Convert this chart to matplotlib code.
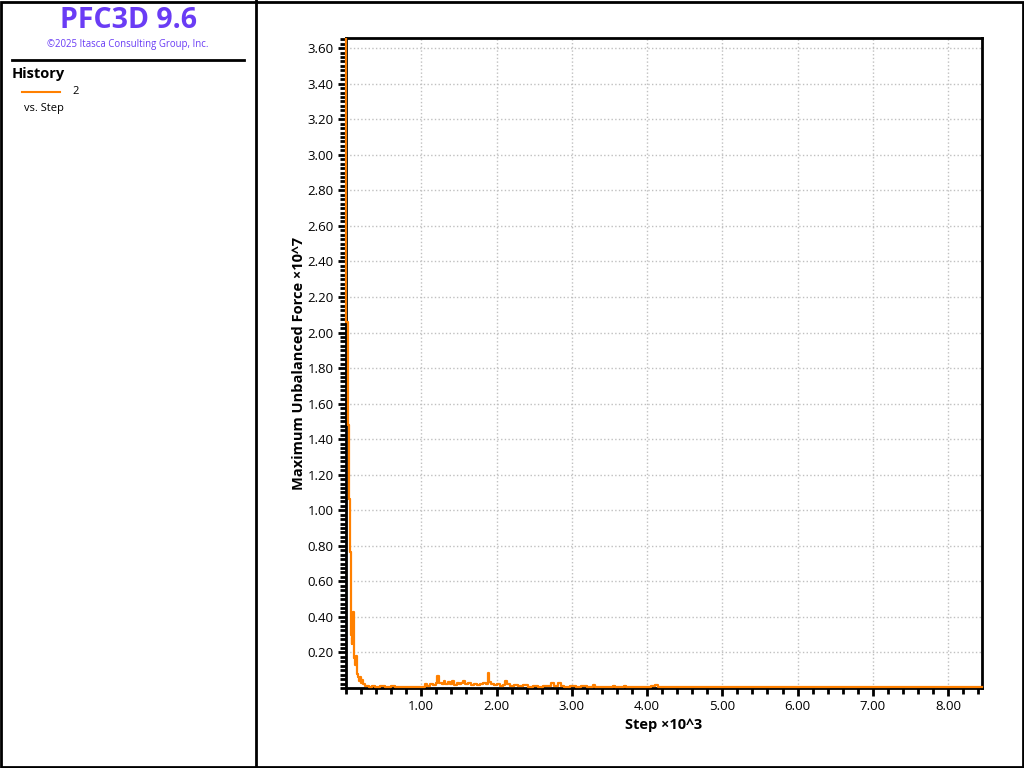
import matplotlib.pyplot as plt
from matplotlib.lines import Line2D
from matplotlib.patches import Rectangle
from matplotlib.ticker import FormatStrFormatter, MultipleLocator

plt.rcParams["font.family"] = ["Open Sans", "DejaVu Sans"]

# history 2: maximum unbalanced force (x10^7) vs step (x10^3), step-wise samples
steps = [
    0.000, 0.005, 0.020, 0.040, 0.055, 0.065, 0.075, 0.085, 0.095, 0.102,
    0.110, 0.120, 0.130, 0.140, 0.150, 0.160, 0.170, 0.185, 0.200, 0.215,
    0.230, 0.250, 0.300, 0.350, 0.380, 0.450, 0.520, 0.600, 0.650, 0.750,
    0.820, 0.900, 0.950, 1.000, 1.050, 1.080, 1.120, 1.160, 1.200, 1.215,
    1.235, 1.270, 1.300, 1.320, 1.350, 1.380, 1.410, 1.440, 1.470, 1.500,
    1.530, 1.560, 1.580, 1.620, 1.660, 1.700, 1.740, 1.780, 1.820, 1.860,
    1.885, 1.900, 1.920, 1.960, 2.000, 2.040, 2.080, 2.110, 2.140, 2.180,
    2.230, 2.280, 2.350, 2.420, 2.480, 2.550, 2.620, 2.700, 2.730, 2.760,
    2.820, 2.850, 2.900, 2.980, 3.050, 3.120, 3.200, 3.280, 3.310, 3.400,
    3.550, 3.580, 3.700, 3.720, 3.900, 4.050, 4.100, 4.150, 4.300, 8.450,
]
max_unbal_force = [
    3.650, 2.060, 1.480, 1.065, 0.765, 0.300, 0.250, 0.280, 0.430, 0.240,
    0.170, 0.130, 0.180, 0.100, 0.080, 0.060, 0.040, 0.060, 0.030, 0.045,
    0.020, 0.012, 0.008, 0.012, 0.006, 0.010, 0.006, 0.012, 0.006, 0.008,
    0.005, 0.008, 0.005, 0.008, 0.020, 0.010, 0.025, 0.015, 0.030, 0.068,
    0.030, 0.025, 0.040, 0.022, 0.035, 0.020, 0.038, 0.018, 0.030, 0.020,
    0.028, 0.040, 0.022, 0.030, 0.018, 0.025, 0.015, 0.020, 0.028, 0.020,
    0.083, 0.035, 0.022, 0.015, 0.020, 0.010, 0.018, 0.042, 0.025, 0.012,
    0.018, 0.010, 0.015, 0.008, 0.012, 0.008, 0.012, 0.010, 0.030, 0.012,
    0.028, 0.012, 0.008, 0.012, 0.006, 0.010, 0.006, 0.018, 0.006, 0.004,
    0.014, 0.004, 0.012, 0.004, 0.003, 0.010, 0.018, 0.004, 0.003, 0.003,
]

x_ticks = [1, 2, 3, 4, 5, 6, 7, 8]
y_ticks = [0.2, 0.4, 0.6, 0.8, 1.0, 1.2, 1.4, 1.6, 1.8, 2.0,
           2.2, 2.4, 2.6, 2.8, 3.0, 3.2, 3.4, 3.6]

orange = "#ff8000"
purple = "#6a3cf5"

fig = plt.figure(figsize=(10.24, 7.68), dpi=100)

# frame of the whole view and the divider of the left panel
fig.patches.append(Rectangle((0.001, 0.001), 0.998, 0.997, transform=fig.transFigure,
                             fill=False, edgecolor="black", linewidth=2))
fig.add_artist(Line2D([0.25, 0.25], [0, 1], color="black", linewidth=2))

# left panel
fig.text(128 / 1024, 1 - 20 / 768, "PFC3D 9.6", color=purple, fontsize=20.5,
         fontweight="bold", ha="center", va="center")
fig.text(128 / 1024, 1 - 45 / 768, "\u00a92025 Itasca Consulting Group, Inc.",
         color=purple, fontsize=6.9, ha="center", va="center")
fig.add_artist(Line2D([12 / 1024, 244 / 1024], [1 - 60 / 768, 1 - 60 / 768],
                      color="black", linewidth=2))
fig.text(12 / 1024, 1 - 74 / 768, "History", fontsize=10.5, fontweight="bold",
         ha="left", va="center")
fig.add_artist(Line2D([22 / 1024, 60 / 1024], [1 - 92 / 768, 1 - 92 / 768],
                      color=orange, linewidth=1.5))
fig.text(72 / 1024, 1 - 92 / 768, "2", fontsize=8, ha="left", va="center")
fig.text(24 / 1024, 1 - 109 / 768, "vs. Step", fontsize=8, ha="left", va="center")

# plot
ax = fig.add_axes([346 / 1024, 1 - 688 / 768, (982 - 346) / 1024, (688 - 38) / 768])
ax.plot(steps, max_unbal_force, color=orange, linewidth=1.6,
        drawstyle="steps-post", zorder=3, clip_on=False)
ax.set_xlim(0, 8.45)
ax.set_ylim(0, 3.657)

ax.set_xticks(x_ticks)
ax.set_yticks(y_ticks)
ax.xaxis.set_minor_locator(MultipleLocator(0.2))
ax.yaxis.set_minor_locator(MultipleLocator(0.025))
ax.xaxis.set_major_formatter(FormatStrFormatter("%.2f"))
ax.yaxis.set_major_formatter(FormatStrFormatter("%.2f"))
ax.tick_params(which="major", direction="out", length=6, width=2, labelsize=9.5, pad=3)
ax.tick_params(which="minor", direction="out", length=4, width=2)
ax.grid(True, which="major", color="#c0c0c0", linestyle=":", linewidth=1)
for spine in ax.spines.values():
    spine.set_linewidth(2)

ax.set_xlabel("Step \u00d710^3", fontsize=10.5, fontweight="bold", labelpad=3)
ax.set_ylabel("Maximum Unbalanced Force \u00d710^7", fontsize=10.5,
              fontweight="bold", labelpad=1)

fig.savefig("out.png", dpi=100)
